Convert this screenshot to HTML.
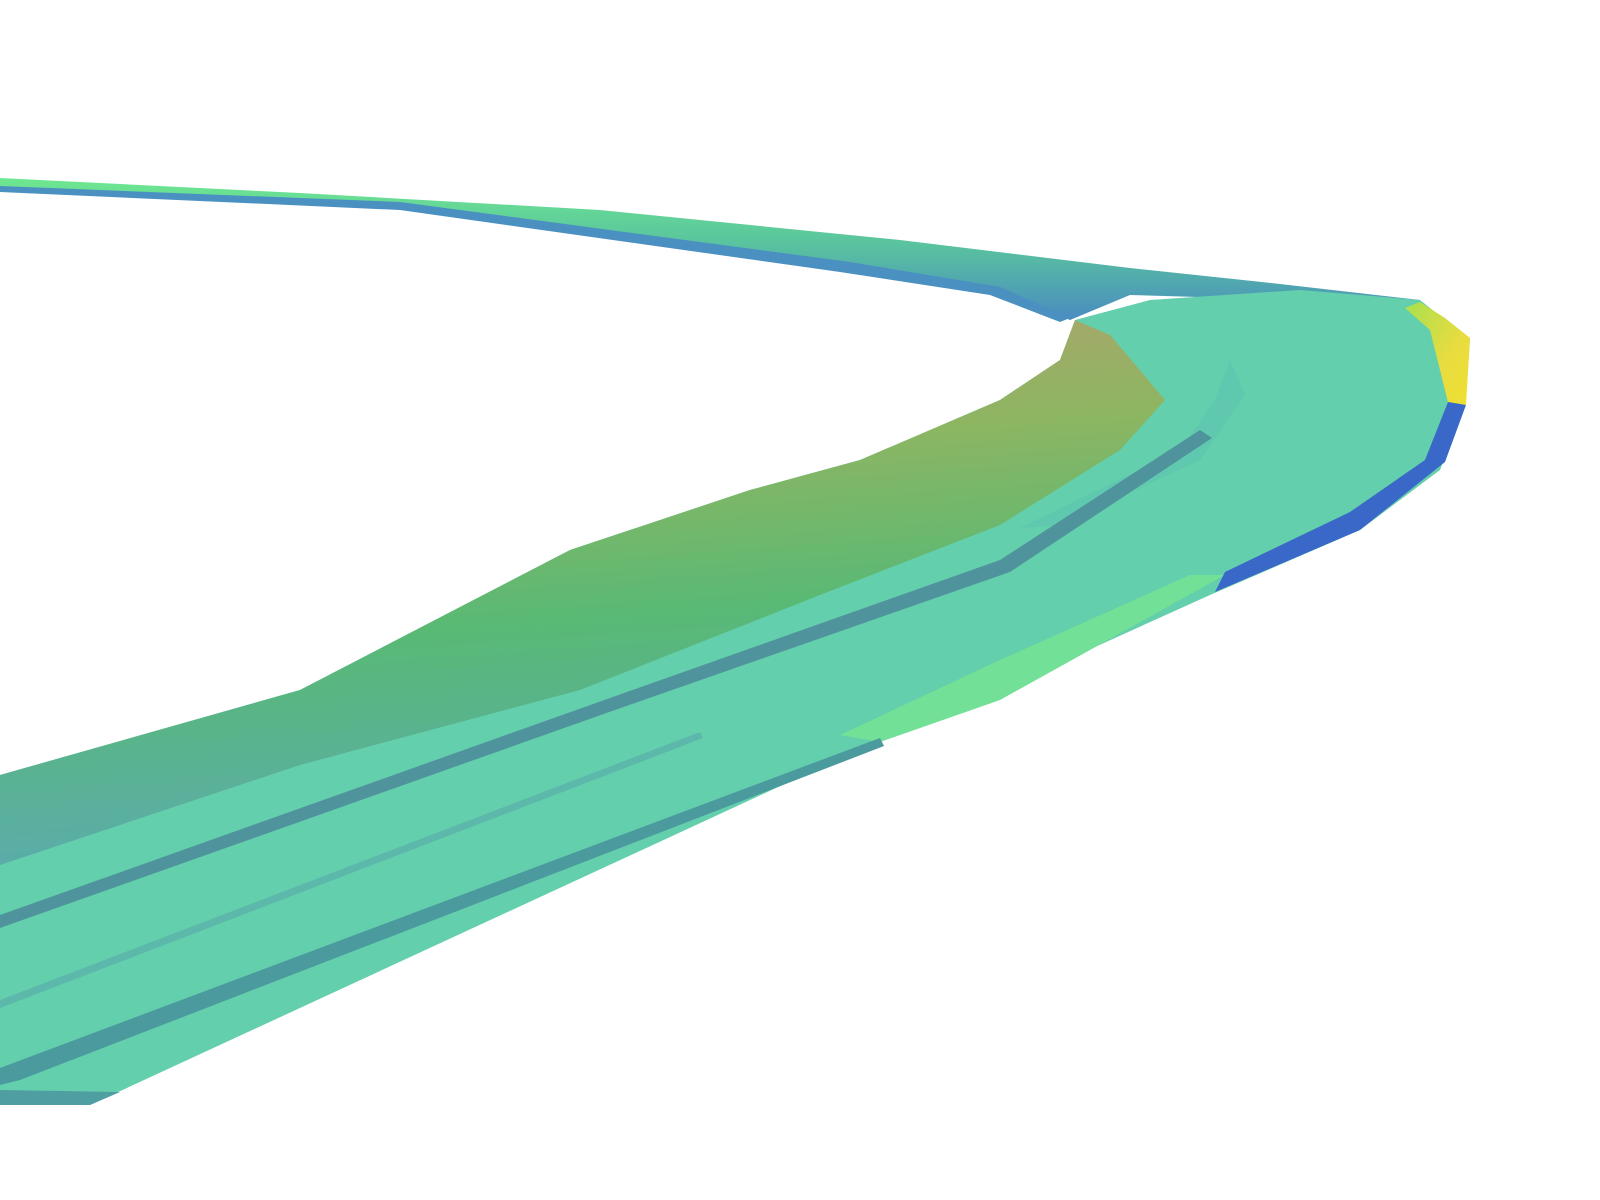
<!DOCTYPE html>
<html><head><meta charset="utf-8"><style>html,body{margin:0;padding:0;background:#fff}svg{display:block}</style></head>
<body>
<svg id="s" width="1600" height="1200" viewBox="0 0 1600 1200">
<defs>
<linearGradient id="wallG" x1="0.4" y1="0" x2="0.55" y2="1">
<stop offset="0" stop-color="#b0a268"/><stop offset="0.25" stop-color="#8fb45e"/><stop offset="0.55" stop-color="#58b872"/><stop offset="1" stop-color="#5aa8b4"/>
</linearGradient>
<linearGradient id="tipG" x1="0" y1="0" x2="1" y2="1">
<stop offset="0" stop-color="#a8e050"/><stop offset="0.6" stop-color="#e8dc40"/><stop offset="1" stop-color="#f0e030"/>
</linearGradient>
<linearGradient id="topG" x1="0" y1="0" x2="0" y2="1">
<stop offset="0" stop-color="#6ee890"/><stop offset="0.5" stop-color="#58c0a0"/><stop offset="1" stop-color="#4a8cc0"/>
</linearGradient>
</defs>
</svg>
<script>
const mainBand=[[1470,340],[1465,405],[1440,470],[1360,530],[1210,595],[1000,690],[880,740],[90,1105],[0,1105],[0,775],[300,690],[570,550],[750,490],[860,460],[1000,400],[1060,360],[1075,320],[1150,300],[1300,290],[1420,300]];
const greenFringe=[[1225,575],[1000,700],[880,742],[840,735],[1000,660],[1190,575]];
const wall=[[1075,320],[1060,360],[1000,400],[860,460],[750,490],[570,550],[300,690],[0,775],[0,865],[300,765],[580,690],[820,595],[1000,525],[1120,450],[1165,400],[1110,335]];
const stripe1=[[0,915],[610,698],[1000,560],[1200,430],[1212,438],[1010,572],[615,710],[0,928]];
const stripe2=[[0,1068],[880,738],[884,746],[20,1080],[0,1085]];
const stripe3=[[0,1000],[700,732],[703,738],[0,1008]];
const bottomEdge=[[0,1090],[120,1092],[90,1105],[0,1105]];
const innerLight=[[1230,360],[1245,395],[1200,460],[1060,525],[1020,528],[1180,450],[1215,400]];
const topBand=[[0,178],[300,193],[600,210],[900,240],[1130,268],[1280,284],[1420,300],[1300,300],[1130,295],[1070,320],[1000,290],[850,265],[400,205],[0,190]];
const topUnder=[[0,186],[400,202],[850,262],[1000,287],[1070,318],[1060,322],[990,295],[840,272],[400,210],[0,192]];
const tip=[[1420,302],[1445,318],[1470,338],[1466,405],[1448,402],[1430,330],[1405,308]];
const tipBlue=[[1466,405],[1445,462],[1360,530],[1215,592],[1225,572],[1350,512],[1425,460],[1448,402]];
const svg=document.getElementById('s');
function poly(pts,fill,name,op){const p=document.createElementNS('http://www.w3.org/2000/svg','polygon');
p.setAttribute('points',pts.map(a=>a.join(',')).join(' '));p.setAttribute('fill',fill);if(op)p.setAttribute('opacity',op);


svg.appendChild(p);}
poly(topBand,'url(#topG)','top-band');
poly(topUnder,'#4a90c0','top-band-underside');
poly(mainBand,'#64cfac','main-band');
poly(greenFringe,'#72e096','green-fringe');
poly(wall,'url(#wallG)','inner-wall',0.95);
poly(innerLight,'#5fc8ae','inner-light-strip');
poly(stripe1,'#4f949c','dark-stripe-upper');
poly(stripe3,'#5cb8aa','mid-stripe');
poly(stripe2,'#4a9a9e','dark-stripe-lower');
poly(bottomEdge,'#4f9ea2','bottom-edge');
poly(tip,'url(#tipG)','yellow-tip');
poly(tipBlue,'#3a68c8','blue-edge');
</script>
</body></html>
